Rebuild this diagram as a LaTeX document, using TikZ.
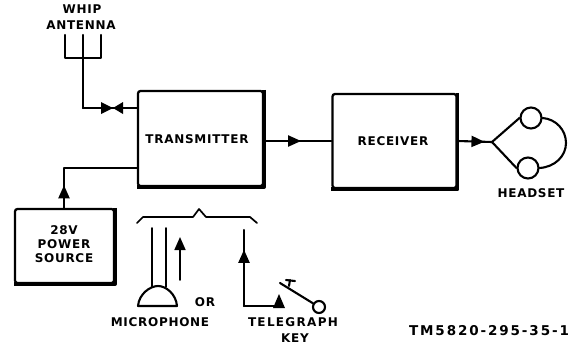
\documentclass[tikz,border=0pt]{standalone}
\usepackage{fontspec}
\setmainfont{DejaVu Sans}[LetterSpace=6,BoldFont={DejaVu Sans Bold}]
\usetikzlibrary{arrows.meta,decorations.markings,calc}
\tikzset{
  x=1pt,y=-1pt,
  wire/.style={line width=2.1pt,line join=round,line cap=round},
  thinwire/.style={line width=1.7pt,line join=round,line cap=round},
  blockbox/.style={draw,line width=2.3pt,rounded corners=2.5pt,inner sep=0pt},
  lab/.style={font=\bfseries\fontsize{12}{12}\selectfont,inner sep=0pt,align=center},
  tiparrow/.style={postaction={decorate},decoration={markings,mark=at position #1 with {\arrow{Triangle[length=13pt,width=11pt]}}}},
}
\begin{document}
\begin{tikzpicture}
\useasboundingbox (0,0) rectangle (574,346);
% blocks
\node[blockbox,minimum width=125pt,minimum height=95pt] (tx) at (200.5,138.5) {};
\node[blockbox,minimum width=124pt,minimum height=94pt] (rx) at (394.5,141) {};
\node[blockbox,minimum width=99pt,minimum height=74pt] (ps) at (64.5,246) {};
\draw[line width=3.6pt,line join=round] (tx.north east) -- (tx.south east) -- (tx.south west);
\draw[line width=3.6pt,line join=round] (rx.north east) -- (rx.south east) -- (rx.south west);
\draw[line width=3.6pt,line join=round] (ps.north east) -- (ps.south east) -- (ps.south west);
\node[lab] (txt) at (197,139) {TRANSMITTER};
\node[lab] (rxt) at (393,141) {RECEIVER};
\node[lab] (pst) at (64,244) {28V\\[2.5pt]POWER\\[2pt]SOURCE};
% antenna
\node[lab] (whip) at (82,9) {WHIP};
\node[lab] (ant) at (81,25) {ANTENNA};
\coordinate (al) at (65,35);
\coordinate (am) at (83,35);
\coordinate (ar) at (101,35);
\coordinate (aj) at (83,58);
\coordinate (ab) at (83,108);
\coordinate (bt) at (113,108);
\draw[wire] (al) |- (ar |- aj) -- (ar);
\draw[wire] (am) -- (aj) -- (ab);
\draw[wire] (ab) -- (tx.west |- ab);
\fill ($(bt)+(-12,-6)$) -- (bt) -- ($(bt)+(-12,6)$) -- cycle;
\fill ($(bt)+(10,-6)$) -- (bt) -- ($(bt)+(10,6)$) -- cycle;
% power
\coordinate (pc) at (64,168);
\draw[wire,tiparrow=0.2] (ps.north -| pc) -- (pc) -- (tx.west |- pc);
% tx rx
\draw[wire,tiparrow=0.55] (tx.east |- rx.west) -- (rx.west);
% headset
\node[draw,circle,line width=2.1pt,minimum size=21pt,inner sep=0pt] (e1) at (531,118) {};
\node[draw,circle,line width=2.1pt,minimum size=21pt,inner sep=0pt] (e2) at (528,168) {};
\coordinate (hj) at (492,142);
\draw[wire,tiparrow=0.78] (rx.east) -- (hj);
\draw[wire] (e1.west) -- (hj) -- (e2.west);
\draw[wire] (e1.east) .. controls (556,119) and (566,130) .. (566,143) .. controls (566,156) and (555,167) .. (e2.east);
\node[lab] (hs) at (531,193) {HEADSET};
% brace
\coordinate (b1) at (137,223);
\coordinate (b2) at (143,217);
\coordinate (b3) at (193,217);
\coordinate (b4) at (199,209);
\coordinate (b5) at (206,217);
\coordinate (b6) at (250,217);
\coordinate (b7) at (257,223);
\draw[thinwire] (b1) -- (b2) -- (b3) -- (b4) -- (b5) -- (b6) -- (b7);
% microphone
\coordinate (m1) at (152,228);
\coordinate (m2) at (166,228);
\draw[thinwire] (m1) -- (m1 |- 0,287);
\draw[thinwire] (m2) -- (m2 |- 0,287);
\draw[wire] (138,306) .. controls (139,294) and (150,286) .. (158,286) .. controls (166,286) and (176,294) .. (177,306) -- cycle;
\coordinate (ma1) at (180,280);
\coordinate (ma2) at (180,237);
\draw[thinwire,-{Triangle[length=13pt,width=11pt]}] (ma1) -- (ma2);
\node[lab] (mic) at (160,322) {MICROPHONE};
\node[lab] (orr) at (205,302) {OR};
% key
\coordinate (k1) at (244,230);
\coordinate (k2) at (244,306);
\coordinate (k3) at (279,306);
\draw[wire,tiparrow=0.74] (k2) -- (k1);
\draw[wire] (k2) -- (k3);
\fill (273,308) -- (279,294) -- (285,308) -- cycle;
\node[draw,circle,line width=2.1pt,minimum size=12pt,inner sep=0pt] (kc) at (319,307) {};
\coordinate (kl) at (280,283);
\draw[wire] (kl) -- (kc);
\coordinate (kh1) at (289,286);
\coordinate (kh2) at (290,280);
\coordinate (kh3) at (295,281);
\coordinate (kh4) at (286,280);
\draw[wire] (kh1) -- (kh2);
\draw[wire] (kh4) -- (kh3);
\node[lab,font=\bfseries\fontsize{12}{12}\selectfont\addfontfeature{LetterSpace=11}] (tg) at (293,322) {TELEGRAPH};
\node[lab] (key) at (295,338) {KEY};
\node[lab,font=\bfseries\fontsize{13.5}{13.5}\selectfont\addfontfeature{LetterSpace=14}] (tm) at (489,331) {TM5820-295-35-1};
\end{tikzpicture}
\end{document}
